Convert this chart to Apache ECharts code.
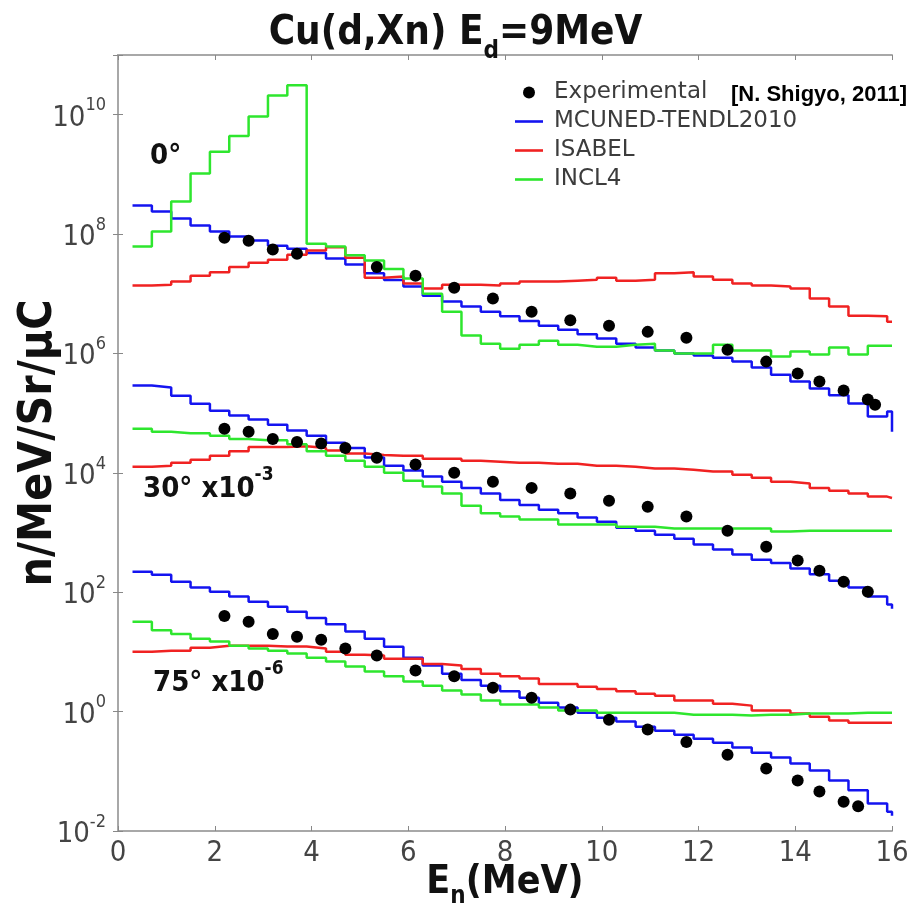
<!DOCTYPE html>
<html>
<head>
<meta charset="utf-8">
<script src="https://cdn.jsdelivr.net/npm/echarts@6/dist/echarts.min.js"></script>
<style>
  html, body { margin: 0; padding: 0; background: #fff; }
  #chart { width: 911px; height: 906px; }
</style>
</head>
<body>
<div id="chart"></div>
<script>
// histogram bin edges (MeV), last entry closes the final bin
const binEdges = [0.3, 0.7, 1.1, 1.5, 1.9, 2.3, 2.7, 3.1, 3.5, 3.9, 4.3, 4.7, 5.1, 5.5, 5.9, 6.3, 6.7, 7.1, 7.5, 7.9,
  8.3, 8.7, 9.1, 9.5, 9.9, 10.3, 10.7, 11.1, 11.5, 11.9, 12.3, 12.7, 13.1, 13.5, 13.9, 14.3, 14.7, 15.1, 15.5, 15.9, 16.0]

// 0 deg
const mcuned0 = [3.0e8, 2.4e8, 1.82e8, 1.39e8, 1.1e8, 9.1e7, 7.8e7, 6.4e7, 5.7e7, 4.8e7,
  3.9e7, 3.1e7, 2.2e7, 1.7e7, 1.33e7, 9.3e6, 7.4e6, 6.1e6, 5.0e6, 4.2e6,
  3.5e6, 2.9e6, 2.5e6, 2.1e6, 1.78e6, 1.45e6, 1.26e6, 1.12e6, 1.0e6, 9.2e5,
  8.5e5, 7.3e5, 5.8e5, 4.4e5, 3.4e5, 2.6e5, 2.0e5, 1.45e5, 8.8e4, 1.07e5, 4.9e4]
const isabel0 = [1.37e7, 1.42e7, 1.6e7, 2.0e7, 2.3e7, 2.8e7, 3.3e7, 3.7e7, 4.5e7, 5.3e7,
  6.0e7, 4.0e7, 1.85e7, 1.94e7, 1.48e7, 1.22e7, 1.42e7, 1.42e7, 1.37e7, 1.48e7,
  1.6e7, 1.6e7, 1.66e7, 1.72e7, 1.86e7, 1.66e7, 1.72e7, 2.2e7, 2.3e7, 1.94e7,
  1.72e7, 1.48e7, 1.37e7, 1.32e7, 1.22e7, 8.3e6, 6.1e6, 4.3e6, 4.2e6, 3.4e6, 3.4e6]
const incl0 = [6.2e7, 1.1e8, 3.5e8, 1.03e9, 2.4e9, 4.4e9, 9.3e9, 2.1e10, 3.1e10, 6.9e7,
  6.2e7, 4.4e7, 3.6e7, 2.6e7, 1.8e7, 1.0e7, 5.0e6, 2.0e6, 1.45e6, 1.2e6,
  1.4e6, 1.63e6, 1.4e6, 1.3e6, 1.3e6, 1.4e6, 1.45e6, 1.12e6, 1.0e6, 1.0e6,
  1.4e6, 1.12e6, 1.12e6, 8.9e5, 1.08e6, 9.6e5, 1.26e6, 9.6e5, 1.35e6, 1.35e6, 1.35e6]
const exp0E = [2.2, 2.7, 3.2, 3.7, 5.35, 6.15, 6.95, 7.75, 8.55, 9.35, 10.15, 10.95, 11.75, 12.6, 13.4, 14.05, 14.5, 15.0, 15.5, 15.65]
const exp0 = [8.7e7, 7.7e7, 5.5e7, 4.7e7, 2.8e7, 2.0e7, 1.26e7, 8.3e6, 5.0e6, 3.6e6,
  2.9e6, 2.3e6, 1.83e6, 1.15e6, 7.3e5, 4.6e5, 3.4e5, 2.4e5, 1.7e5, 1.38e5]

// 30 deg (x10^-3)
const mcuned30 = [2.9e5, 2.7e5, 1.96e5, 1.44e5, 1.1e5, 9.1e4, 7.8e4, 6.4e4, 5.1e4, 4.2e4,
  3.2e4, 2.6e4, 1.8e4, 1.32e4, 1.1e4, 8.7e3, 7.1e3, 5.6e3, 4.5e3, 3.5e3,
  2.9e3, 2.4e3, 2.1e3, 1.78e3, 1.52e3, 1.2e3, 1.07e3, 920, 790, 630,
  520, 430, 350, 310, 250, 200, 156, 120, 85, 62, 53]
const isabel30 = [1.27e4, 1.32e4, 1.48e4, 1.65e4, 1.94e4, 2.3e4, 2.7e4, 2.7e4, 2.8e4, 2.6e4,
  2.36e4, 2.1e4, 2.0e4, 1.94e4, 1.94e4, 1.73e4, 1.73e4, 1.6e4, 1.54e4, 1.48e4,
  1.48e4, 1.42e4, 1.42e4, 1.32e4, 1.32e4, 1.27e4, 1.18e4, 1.18e4, 1.13e4, 1.05e4,
  1.05e4, 9.3e3, 8.3e3, 7.1e3, 6.6e3, 5.6e3, 5.0e3, 4.5e3, 4.0e3, 3.8e3, 3.8e3]
const incl30 = [5.5e4, 4.9e4, 4.6e4, 4.6e4, 4.2e4, 3.7e4, 3.5e4, 3.5e4, 3.0e4, 2.3e4,
  1.94e4, 1.6e4, 1.27e4, 1.0e4, 7.4e3, 5.9e3, 4.5e3, 2.8e3, 2.1e3, 1.85e3,
  1.65e3, 1.65e3, 1.36e3, 1.36e3, 1.36e3, 1.25e3, 1.25e3, 1.17e3, 1.17e3, 1.17e3,
  1.17e3, 1.17e3, 1.17e3, 1.04e3, 1.07e3, 1.07e3, 1.07e3, 1.07e3, 1.07e3, 1.07e3, 1.07e3]
const exp30E = [2.2, 2.7, 3.2, 3.7, 4.2, 4.7, 5.35, 6.15, 6.95, 7.75, 8.55, 9.35, 10.15, 10.95, 11.75, 12.6, 13.4, 14.05, 14.5, 15.0, 15.5]
const exp30 = [5.5e4, 4.9e4, 3.7e4, 3.3e4, 3.1e4, 2.6e4, 1.79e4, 1.38e4, 1.0e4, 7.1e3,
  5.6e3, 4.5e3, 3.4e3, 2.7e3, 1.85e3, 1.07e3, 580, 340, 230, 150, 102]

// 75 deg (x10^-6)
const mcuned75 = [220, 196, 150, 120, 102, 85, 69, 57, 47, 37,
  29, 22, 16.7, 12.2, 8.0, 5.9, 4.3, 3.4, 2.7, 2.2,
  1.7, 1.41, 1.17, 0.96, 0.79, 0.68, 0.56, 0.48, 0.41, 0.35,
  0.30, 0.25, 0.205, 0.17, 0.135, 0.103, 0.07, 0.048, 0.029, 0.021, 0.018]
const isabel75 = [10.1, 10.5, 10.5, 11.8, 12.7, 12.7, 12.7, 12.3, 12.3, 11.4,
  10.1, 9.0, 8.7, 7.7, 7.7, 6.3, 5.9, 5.2, 4.3, 3.9,
  3.6, 2.9, 2.9, 2.6, 2.4, 2.2, 2.0, 1.85, 1.53, 1.53,
  1.36, 1.26, 1.04, 1.04, 0.93, 0.82, 0.71, 0.65, 0.65, 0.65, 0.65]
const incl75 = [32, 23, 20, 16.7, 14.9, 12.7, 11.4, 10.5, 9.4, 8.0,
  6.9, 5.7, 4.7, 3.9, 3.2, 2.7, 2.25, 1.93, 1.53, 1.31,
  1.31, 1.17, 1.04, 1.04, 0.96, 0.96, 0.96, 0.96, 0.89, 0.89,
  0.89, 0.86, 0.89, 0.89, 0.93, 0.93, 0.93, 0.96, 0.96, 0.96, 0.96]
const exp75E = [2.2, 2.7, 3.2, 3.7, 4.2, 4.7, 5.35, 6.15, 6.95, 7.75, 8.55, 9.35, 10.15, 10.95, 11.75, 12.6, 13.4, 14.05, 14.5, 15.0, 15.3]
const exp75 = [40, 32, 20, 18, 16, 11.4, 8.7, 4.9, 3.9, 2.5,
  1.7, 1.08, 0.73, 0.50, 0.31, 0.19, 0.111, 0.070, 0.046, 0.031, 0.026]

const xTicks = [0, 2, 4, 6, 8, 10, 12, 14, 16]

const BLUE = '#1414f0'
const RED = '#f02222'
const GREEN = '#2ee62e'
const FONT = "'DejaVu Sans Condensed', 'DejaVu Sans', sans-serif"
const FRAME = '#a8a8a8'
// thin bar used as the legend mark of the step lines
const LINE_ICON = 'path://M0,0 H28 V2.6 H0 Z'

function histo(vals) {
  return binEdges.map((e, i) => [e, vals[i]])
}

function pts(es, vs) {
  return es.map((e, i) => [e, vs[i]])
}

function stepLine(name, color, vals) {
  return {
    name: name,
    type: 'line',
    step: 'end',
    data: histo(vals),
    symbol: 'none',
    showSymbol: false,
    lineStyle: { color: color, width: 2.5 },
    itemStyle: { color: color },
    z: 2
  }
}

function expSeries(es, vs) {
  return {
    name: 'Experimental',
    type: 'scatter',
    data: pts(es, vs),
    symbolSize: 12,
    itemStyle: { color: '#000', opacity: 1 },
    z: 4
  }
}

function boldRich(big, small, lh, subscript) {
  return {
    a: { fontSize: big, fontWeight: 'bold', color: '#111', fontFamily: FONT, lineHeight: lh, verticalAlign: subscript ? 'top' : 'bottom' },
    s: { fontSize: small, fontWeight: 'bold', color: '#111', fontFamily: FONT, lineHeight: lh, verticalAlign: subscript ? 'bottom' : 'top' }
  }
}

const chart = echarts.init(document.getElementById('chart'))

chart.setOption({
  animation: false,
  backgroundColor: '#fff',
  title: [
    {
      text: '{a|Cu(d,Xn) E}{s|d}{a|=9MeV}',
      left: 'center',
      top: 9,
      textStyle: { rich: boldRich(40, 24, 50, true) }
    },
    {
      text: '0°',
      left: 145,
      top: 137,
      textStyle: { fontSize: 29, fontWeight: 'bold', color: '#111', fontFamily: FONT }
    },
    {
      text: '{a|30° x10}{s|-3}',
      left: 138,
      top: 461,
      textStyle: { rich: boldRich(29, 19, 38, false) }
    },
    {
      text: '{a|75° x10}{s|-6}',
      left: 148,
      top: 655,
      textStyle: { rich: boldRich(29, 19, 38, false) }
    },
    {
      text: '[N. Shigyo, 2011]',
      left: 726,
      top: 79,
      textStyle: { fontSize: 22, fontWeight: 'bold', color: '#000', fontFamily: "'Liberation Sans', Arial, sans-serif" }
    }
  ],
  legend: {
    data: [
      { name: 'Experimental', icon: 'circle' },
      { name: 'MCUNED-TENDL2010', icon: LINE_ICON },
      { name: 'ISABEL', icon: LINE_ICON },
      { name: 'INCL4', icon: LINE_ICON }
    ],
    orient: 'vertical',
    left: 510,
    top: 76,
    itemWidth: 28,
    itemHeight: 12,
    itemGap: 6,
    selectedMode: false,
    textStyle: { fontSize: 23, color: '#3c3c3c', fontFamily: "'DejaVu Sans', sans-serif", lineHeight: 23, padding: [0, 0, 0, 6] }
  },
  grid: { left: 118, right: 19, top: 55, bottom: 75, containLabel: false, outerBoundsMode: 'none' },
  xAxis: [
    {
      type: 'value',
      position: 'bottom',
      min: xTicks[0],
      max: xTicks[xTicks.length - 1],
      interval: 2,
      name: '{a|E}{s|n}{a|(MeV)}',
      nameLocation: 'middle',
      nameGap: 32,
      nameMoveOverlap: false,
      nameTextStyle: { rich: boldRich(39, 24, 46, true) },
      axisLine: { lineStyle: { color: FRAME, width: 2 } },
      axisTick: { inside: true, length: 5, lineStyle: { color: '#888' } },
      axisLabel: { margin: 8, fontSize: 29, color: '#444', fontFamily: FONT },
      splitLine: { show: false }
    },
    {
      type: 'value',
      position: 'top',
      min: xTicks[0],
      max: xTicks[xTicks.length - 1],
      interval: 2,
      axisLine: { lineStyle: { color: FRAME, width: 2 } },
      axisTick: { inside: true, length: 5, lineStyle: { color: '#888' } },
      axisLabel: { show: false },
      splitLine: { show: false }
    }
  ],
  yAxis: [
    {
      type: 'log',
      logBase: 10,
      min: 1e-2,
      max: 1e11,
      interval: 2,
      position: 'left',
      name: 'n/MeV/Sr/μC',
      nameLocation: 'middle',
      nameGap: 56,
      nameMoveOverlap: false,
      nameRotate: 90,
      nameTextStyle: { fontSize: 46, fontWeight: 'bold', color: '#111', fontFamily: FONT },
      axisLine: { show: true, lineStyle: { color: FRAME, width: 2 } },
      axisTick: { show: true, inside: true, length: 5, lineStyle: { color: '#888' } },
      axisLabel: {
        margin: 12,
        formatter: function (v) {
          const e = Math.round(Math.log10(v))
          if (e % 2 !== 0) return ''
          return '{b|10}{s|' + e + '}'
        },
        rich: {
          b: { fontSize: 29, color: '#444', fontFamily: FONT, lineHeight: 36, verticalAlign: 'bottom' },
          s: { fontSize: 18, color: '#444', fontFamily: FONT, lineHeight: 36, verticalAlign: 'top' }
        }
      },
      splitLine: { show: false }
    },
    {
      type: 'log',
      logBase: 10,
      min: 1e-2,
      max: 1e11,
      interval: 2,
      position: 'right',
      axisLine: { show: true, lineStyle: { color: FRAME, width: 2 } },
      axisTick: { show: true, inside: true, length: 5, lineStyle: { color: '#888' } },
      axisLabel: { show: false },
      splitLine: { show: false }
    }
  ],
  series: [
    stepLine('MCUNED-TENDL2010', BLUE, mcuned0),
    stepLine('ISABEL', RED, isabel0),
    stepLine('INCL4', GREEN, incl0),
    stepLine('MCUNED-TENDL2010', BLUE, mcuned30),
    stepLine('ISABEL', RED, isabel30),
    stepLine('INCL4', GREEN, incl30),
    stepLine('MCUNED-TENDL2010', BLUE, mcuned75),
    stepLine('ISABEL', RED, isabel75),
    stepLine('INCL4', GREEN, incl75),
    expSeries(exp0E, exp0),
    expSeries(exp30E, exp30),
    expSeries(exp75E, exp75)
  ]
})
</script>
</body>
</html>
